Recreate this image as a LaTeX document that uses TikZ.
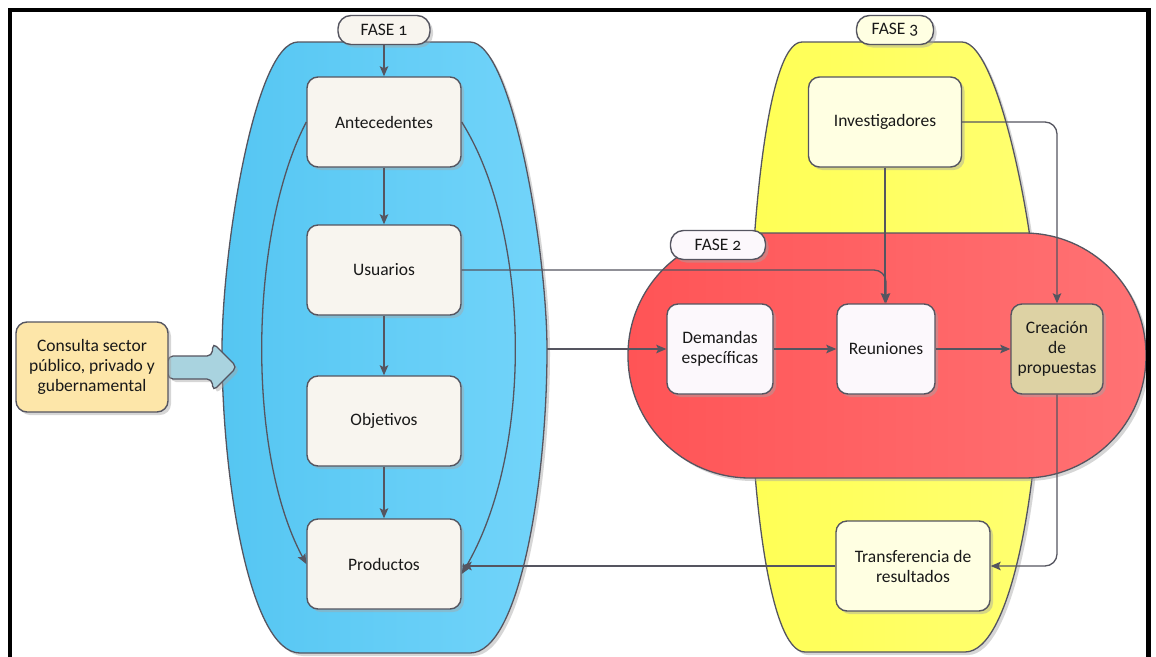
\documentclass[tikz,border=0pt]{standalone}
\usepackage{fontspec}
\setmainfont{Carlito}[Numbers=OldStyle]
\usetikzlibrary{arrows.meta,shadows}

\definecolor{edge}{HTML}{555560}
\definecolor{cream}{HTML}{F8F5EF}
\definecolor{lilac}{HTML}{FCF8FC}
\definecolor{paleyellow}{HTML}{FFFFE2}
\definecolor{sand}{HTML}{DDD2A4}
\definecolor{peach}{HTML}{FDE6A9}
\definecolor{skyA}{HTML}{55C6F2}
\definecolor{skyB}{HTML}{72D4FA}
\definecolor{redA}{HTML}{FF5456}
\definecolor{redB}{HTML}{FF7274}
\definecolor{yelA}{HTML}{FFFF55}
\definecolor{yelB}{HTML}{FFFF70}
\definecolor{pointer}{HTML}{A9D3DF}

\tikzset{
  softshadow/.style={drop shadow={shadow xshift=3pt, shadow yshift=-3pt, opacity=0.45, fill=gray!70}},
  region/.style={draw=edge, line width=1.3pt, softshadow},
  box/.style={draw=edge, line width=1.4pt, rounded corners=11pt, align=center,
    inner sep=0pt, text=black!90, minimum height=90pt, softshadow},
  tag/.style={draw=edge, line width=1.4pt, rounded corners=13pt, align=center,
    inner sep=0pt, text=black!90, minimum height=29pt, softshadow},
  conn/.style={draw=edge, line width=1.3pt, rounded corners=12pt,
    -{Stealth[length=10pt,width=8.5pt,inset=2pt]}},
}

\begin{document}
\begin{tikzpicture}[x=1pt, y=-1pt, font=\fontsize{17.5}{20}\selectfont]
\useasboundingbox (0,0) rectangle (1156,656);
\fill[white] (0,0) rectangle (1156,656);

% phase 3 region (yellow)
\path[region, left color=yelA, right color=yelB]
  (802,42) -- (962,42)
  .. controls (1000,42) and (1040,250) .. (1040,350)
  .. controls (1040,480) and (1012,652) .. (965,652)
  -- (805,652)
  .. controls (768,652) and (750,480) .. (750,350)
  .. controls (750,250) and (765,42) .. (802,42) -- cycle;

% phase 1 region (blue)
\path[region, left color=skyA, right color=skyB]
  (298,42) -- (470,42)
  .. controls (512,42) and (547,250) .. (547,350)
  .. controls (547,480) and (520,653) .. (470,653)
  -- (300,653)
  .. controls (250,653) and (222,480) .. (222,350)
  .. controls (222,250) and (255,42) .. (298,42) -- cycle;

% phase 2 region (red)
\path[region, left color=redA, right color=redB, rounded corners=122pt]
  (628,233) rectangle (1146,478);

% outer frame
\draw[line width=4.5pt, black] (10,660) -- (10,10) -- (1148.5,10) -- (1148.5,660);

% entry pointer
\path[draw=edge, line width=1.3pt, fill=pointer, rounded corners=5pt, softshadow]
  (168,356) -- (212,356) -- (213,343) -- (237,367) -- (213,391) -- (212,379) -- (168,379) -- cycle;

% phase tags
\node[tag, fill=cream, minimum width=92pt] (f1) at (384,30) {FASE 1};
\node[tag, fill=lilac, minimum width=95pt] (f2) at (718,245) {FASE 2};
\node[tag, fill=paleyellow, minimum width=77pt] (f3) at (895,30) {FASE 3};

% boxes
\node[box, fill=peach, minimum width=152pt] (cons) at (92,367) {Consulta sector\\público, privado y\\gubernamental};
\node[box, fill=cream, minimum width=154pt] (ant) at (384,122) {Antecedentes};
\node[box, fill=cream, minimum width=154pt] (usu) at (384,270) {Usuarios};
\node[box, fill=cream, minimum width=154pt] (obj) at (384,421) {Objetivos};
\node[box, fill=cream, minimum width=154pt] (prod) at (384,564) {Productos};
\node[box, fill=paleyellow, minimum width=153pt] (inv) at (885,122) {Investigadores};
\node[box, fill=lilac, minimum width=106pt] (dem) at (720,349) {Demandas\\específicas};
\node[box, fill=lilac, minimum width=98pt] (reu) at (886,349) {Reuniones};
\node[box, fill=sand, minimum width=92pt] (cre) at (1057,349) {Creación\\de\\propuestas};
\node[box, fill=paleyellow, minimum width=154pt] (tra) at (913,566) {Transferencia de\\resultados};

\coordinate (bout) at (547,349);

% connectors
\draw[conn] (f1) -- (ant);
\draw[conn] (ant) -- (usu);
\draw[conn] (usu) -- (obj);
\draw[conn] (obj) -- (prod);
\draw[conn] (ant.west) .. controls (250,230) and (245,450) .. (prod.west);
\draw[conn] (ant.east) .. controls (530,230) and (535,450) .. ([yshift=-10pt]prod.east);
\draw[conn] (usu.east) -| (reu.north);
\draw[conn] (inv.south) -- (inv.south |- reu.north);
\draw[conn] (inv.east) -| (cre.north);
\draw[conn] (bout) -- (dem.west);
\draw[conn] (dem) -- (reu);
\draw[conn] (reu) -- (cre);
\draw[conn] (cre.south) |- (tra.east);
\draw[conn] (tra.west) -- (tra.west -| prod.east);
\end{tikzpicture}
\end{document}
